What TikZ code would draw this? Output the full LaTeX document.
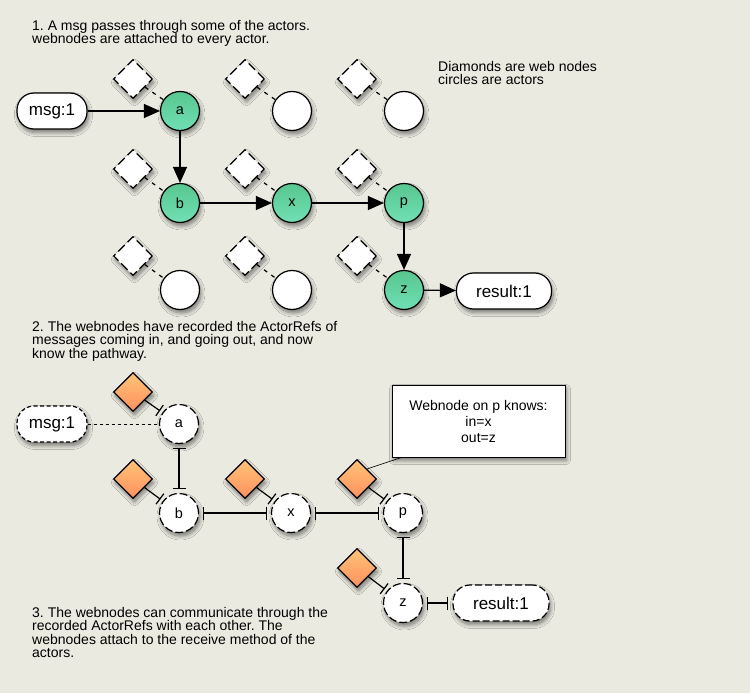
\documentclass[tikz,border=0pt]{standalone}
\usepackage{fontspec}
\setmainfont{Liberation Sans}
\usetikzlibrary{shapes.geometric,arrows.meta,shadows.blur}
\definecolor{bg}{RGB}{235,234,225}
\definecolor{gtop}{RGB}{88,198,142}
\definecolor{gbot}{RGB}{112,224,182}
\definecolor{otop}{RGB}{255,196,118}
\definecolor{obot}{RGB}{255,144,96}
\frenchspacing
\begin{document}
\begin{tikzpicture}[x=1pt,y=-1pt,font=\fontsize{14}{13.5}\selectfont,
 shd/.style={blur shadow={shadow xshift=1.5pt,shadow yshift=-3.5pt,shadow blur steps=8,shadow blur radius=4pt,shadow opacity=50}},
 actor/.style={circle,draw,line width=1.2pt,minimum size=39pt,inner sep=0pt,font=\fontsize{14.5}{16}\selectfont,shd},
 active/.style={actor,top color=gtop,bottom color=gbot},
 idle/.style={actor,fill=white},
 ghost/.style={actor,fill=white,dash pattern=on 8pt off 3pt},
 wn/.style={diamond,draw,line width=1.2pt,minimum width=39pt,minimum height=39pt,inner sep=0pt,fill=white,dash pattern=on 9pt off 4pt,shd},
 wnr/.style={diamond,draw,line width=1.2pt,minimum width=39pt,minimum height=39pt,inner sep=0pt,top color=otop,bottom color=obot,shd},
 pill/.style={draw,rounded corners=17pt,minimum height=36pt,line width=1.2pt,fill=white,font=\fontsize{17}{18}\selectfont,shd},
 flow/.style={line width=1.2pt,-{Triangle[length=16pt,width=14pt]}},
 link/.style={line width=1.2pt,dash pattern=on 4pt off 5pt},
 ref/.style={line width=1.2pt,{Bar[width=13pt]}-{Bar[width=13pt]},shorten <=4pt,shorten >=4pt},
 attach/.style={line width=1.2pt,-{Bar[width=13pt]},shorten >=3pt},
 para/.style={anchor=north west,inner sep=0pt,align=left}
]
\path[fill=bg,use as bounding box] (0,0) rectangle (750,693);

% ---------- texts ----------
\node[para] (t1) at (32,20) {1. A msg passes through some of the actors.\\webnodes are attached to every actor.};
\node[para] (t2) at (438,61) {Diamonds are web nodes\\circles are actors};
\node[para] (t3) at (32,321) {2. The webnodes have recorded the ActorRefs of\\messages coming in, and going out, and now\\know the pathway.};
\node[para] (t4) at (32,607) {3. The webnodes can communicate through the\\recorded ActorRefs with each other. The\\webnodes attach to the receive method of the\\actors.};

% ---------- section 1 ----------
\node[pill,minimum width=70pt] (msg1) at (52,111) {msg:1};
\node[pill,minimum width=95pt] (res1) at (504,291) {result:1};

\node[active] (a1) at (180,111) {a};
\node[idle]   (c12) at (292,111) {};
\node[idle]   (c13) at (404,111) {};
\node[active] (b1) at (180,203) {b};
\node[active] (x1) at (292,203) {x};
\node[active] (p1) at (404,203) {p};
\node[idle]   (c31) at (180,290) {};
\node[idle]   (c32) at (292,290) {};
\node[active] (z1) at (404,290) {z};

\node[wn] (d11) at (133,79) {};
\node[wn] (d12) at (245,79) {};
\node[wn] (d13) at (357,79) {};
\node[wn] (d21) at (133,169) {};
\node[wn] (d22) at (245,169) {};
\node[wn] (d23) at (357,169) {};
\node[wn] (d31) at (133,256) {};
\node[wn] (d32) at (245,256) {};
\node[wn] (d33) at (357,256) {};

\draw[link] (d11) -- (a1);
\draw[link] (d12) -- (c12);
\draw[link] (d13) -- (c13);
\draw[link] (d21) -- (b1);
\draw[link] (d22) -- (x1);
\draw[link] (d23) -- (p1);
\draw[link] (d31) -- (c31);
\draw[link] (d32) -- (c32);
\draw[link] (d33) -- (z1);

\draw[flow] (msg1) -- (a1);
\draw[flow] (a1) -- (b1);
\draw[flow] (b1) -- (x1);
\draw[flow] (x1) -- (p1);
\draw[flow] (p1) -- (z1);
\draw[flow] (z1) -- (res1);

% ---------- section 2 ----------
\node[pill,minimum width=70pt,dash pattern=on 4pt off 2.5pt] (msg2) at (52,424) {msg:1};
\node[pill,minimum width=96pt,dash pattern=on 7pt off 3pt] (res2) at (501,603) {result:1};

\node[ghost] (a2) at (179,424) {a};
\node[ghost] (b2) at (179,513) {b};
\node[ghost] (x2) at (291,513) {x};
\node[ghost] (p2) at (403,513) {p};
\node[ghost] (z2) at (403,603) {z};

\node[wnr] (e1) at (133,392) {};
\node[wnr] (e2) at (133,479) {};
\node[wnr] (e3) at (245,479) {};
\node[wnr] (e4) at (357,479) {};
\node[wnr] (e5) at (357,568) {};

\draw[line width=1pt,dash pattern=on 3pt off 3pt] (msg2) -- (a2);
\draw[ref] (a2) -- (b2);
\draw[ref] (b2) -- (x2);
\draw[ref] (x2) -- (p2);
\draw[ref] (p2) -- (z2);
\draw[ref] (z2) -- (res2);

\draw[attach] (e1) -- (a2);
\draw[attach] (e2) -- (b2);
\draw[attach] (e3) -- (x2);
\draw[attach] (e4) -- (p2);
\draw[attach] (e5) -- (z2);

\node[draw,fill=white,line width=0.8pt,minimum width=173pt,minimum height=72pt,align=center,shd,font=\fontsize{14}{16}\selectfont] (callout) at (478.5,421) {Webnode on p knows:\\in=x\\out=z};
\draw[line width=0.6pt] ([xshift=10pt]callout.south west) -- (e4.north east);
\end{tikzpicture}
\end{document}
